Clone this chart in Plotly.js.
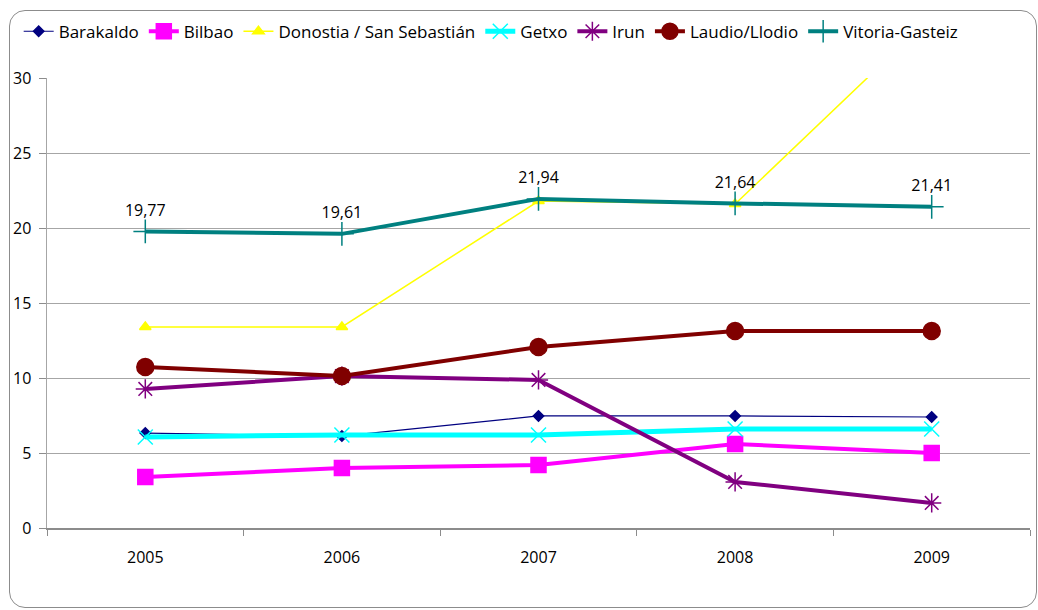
<!DOCTYPE html>
<html>
<head>
<meta charset="utf-8">
<script src="https://cdn.plot.ly/plotly-3.0.1.min.js"></script>
<style>
html,body{margin:0;padding:0;background:#fff;}
#wrap{position:relative;width:1038px;height:610px;overflow:hidden;}
#chart{width:1038px;height:610px;}
#frame{position:absolute;left:9px;top:10px;width:1028px;height:598px;border:1px solid #8c8c8c;border-radius:16px;pointer-events:none;box-sizing:border-box;}
</style>
</head>
<body>
<div id="wrap"><div id="chart"></div><div id="frame"></div></div>
<script>
const years = ['2005','2006','2007','2008','2009'];
const barakaldo = [6.33, 6.13, 7.47, 7.47, 7.4];
const bilbao = [3.4, 4.0, 4.2, 5.6, 5.0];
const donostia = [13.4, 13.4, 21.8, 21.6, 34.1];
const getxo = [6.07, 6.2, 6.2, 6.6, 6.6];
const irun = [9.27, 10.13, 9.87, 3.07, 1.67];
const laudio = [10.73, 10.13, 12.07, 13.13, 13.13];
const vitoria = [19.77, 19.61, 21.94, 21.64, 21.41];

const FONT = '"Open Sans", Lato, sans-serif';

function tr(name, y, color, lw, sym, size, extra) {
  return Object.assign({
    type: 'scatter', mode: 'lines+markers', name: name, x: years, y: y,
    line: {color: color, width: lw},
    marker: {symbol: sym, size: size, color: color, line: {color: color, width: 1.5}},
    cliponaxis: true
  }, extra || {});
}

const data = [
  tr('Barakaldo', barakaldo, '#000080', 1.2, 'diamond', 8),
  tr('Bilbao', bilbao, '#FF00FF', 4, 'square', 15),
  tr('Donostia / San Sebastián', donostia, '#FFFF00', 1.5, 'triangle-up', 10),
  tr('Getxo', getxo, '#00FFFF', 5, 'x-thin-open', 15),
  tr('Irun', irun, '#800080', 4, 'asterisk-open', 16),
  tr('Laudio/Llodio', laudio, '#800000', 4, 'circle', 17),
  tr('Vitoria-Gasteiz', vitoria, '#008080', 4, 'cross-thin-open', 17, {
    mode: 'lines+markers+text',
    texttemplate: '%{y:.2f}',
    textposition: 'top center',
    textfont: {family: FONT, size: 16, color: '#000'}
  })
];

const layout = {
  width: 1038, height: 610,
  margin: {l: 47, r: 8, t: 78, b: 82, autoexpand: false},
  paper_bgcolor: '#fff', plot_bgcolor: '#fff',
  separators: ', ',
  font: {family: FONT, size: 16, color: '#000'},
  showlegend: true,
  legend: {
    orientation: 'h', xref: 'container', yref: 'container',
    x: 0.018, xanchor: 'left', y: 0.948, yanchor: 'middle',
    font: {family: FONT, size: 17, color: '#000'},
    itemwidth: 30, tracegroupgap: 0, traceorder: 'normal', bgcolor: 'rgba(0,0,0,0)'
  },
  xaxis: {
    type: 'category', range: [-0.5, 4.5],
    showgrid: false, showline: true, linecolor: '#8c8c8c', linewidth: 1.5,
    ticks: 'outside', tickson: 'boundaries', ticklen: 6, tickcolor: '#8c8c8c',
    ticklabelstandoff: 14,
    tickfont: {family: FONT, size: 16, color: '#000'}, zeroline: false
  },
  yaxis: {
    range: [0, 30], dtick: 5, tick0: 0,
    showgrid: true, gridcolor: '#a6a6a6', gridwidth: 1,
    showline: true, linecolor: '#a6a6a6', linewidth: 1.5,
    ticks: 'outside', ticklen: 7, tickcolor: '#8c8c8c',
    ticklabelstandoff: 4,
    tickfont: {family: FONT, size: 16, color: '#000'}, zeroline: false
  }
};

Plotly.newPlot('chart', data, layout, {displayModeBar: false, staticPlot: true});
</script>
</body>
</html>
